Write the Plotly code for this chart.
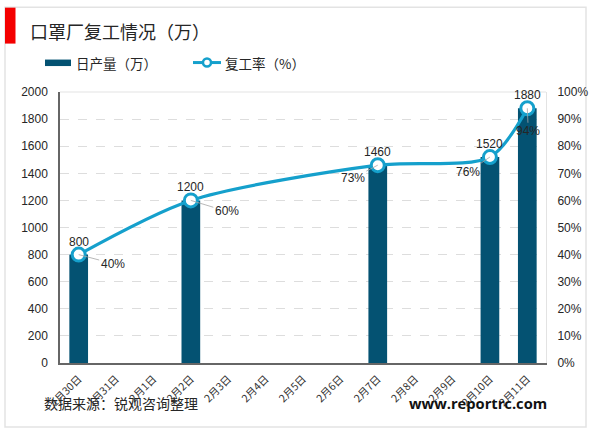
import plotly.graph_objects as go

FONT = "Liberation Sans, Noto Sans CJK SC, sans-serif"
CJK_FONT = "Noto Sans CJK SC, sans-serif"
TEXT_COLOR = "#262626"
BAR_COLOR = "#045272"
LINE_COLOR = "#15A0CC"
FRAME_COLOR = "#e3e3e3"

days = ["1月30日", "1月31日", "2月1日", "2月2日", "2月3日", "2月4日", "2月5日",
        "2月6日", "2月7日", "2月8日", "2月9日", "2月10日", "2月11日"]

report_days = ["1月30日", "2月2日", "2月7日", "2月10日", "2月11日"]
output_wan = [800, 1200, 1460, 1520, 1880]
rate_pct = [40, 60, 73, 76, 94]
# where the percent label sits relative to its point, in px
rate_label_offset = [(34, 9), (36, 11), (-25, 13), (-22, 15), (1, 23)]

y_ticks = list(range(0, 2001, 200))
rate_ticks = list(range(0, 101, 10))

WIDTH, HEIGHT = 600, 433
LEFT, RIGHT, TOP, BOTTOM = 60, 54, 91.5, 70
PLOT_W = WIDTH - LEFT - RIGHT
PLOT_H = HEIGHT - TOP - BOTTOM


def px_x(x):
    return (x - LEFT) / PLOT_W


def px_y(y):
    return (HEIGHT - BOTTOM - y) / PLOT_H


def add_box(fig, x0, x1, y0, y1, **kwargs):
    fig.add_shape(type=kwargs.pop("kind", "rect"), xref="paper", yref="paper",
                  x0=px_x(x0), x1=px_x(x1), y0=px_y(y0), y1=px_y(y1), **kwargs)


def add_text(fig, x, y, text, size, anchor="left", family=CJK_FONT, color=TEXT_COLOR):
    fig.add_annotation(xref="paper", yref="paper", x=px_x(x), y=px_y(y), xanchor=anchor,
                       yanchor="middle", showarrow=False, text=text,
                       font=dict(size=size, color=color, family=family))


fig = go.Figure()

fig.add_trace(
    go.Bar(
        x=report_days,
        y=output_wan,
        name="日产量（万）",
        marker=dict(color=BAR_COLOR, line=dict(width=0)),
        width=0.5,
    )
)

fig.add_trace(
    go.Scatter(
        x=report_days,
        y=rate_pct,
        yaxis="y2",
        name="复工率（%）",
        mode="lines+markers",
        line=dict(color=LINE_COLOR, width=3.2, shape="spline", smoothing=0.8),
        marker=dict(size=13, color="white", line=dict(color=LINE_COLOR, width=3)),
        cliponaxis=False,
    )
)

# value labels above the points, percent labels with leader lines
for day, value, rate, (dx, dy) in zip(report_days, output_wan, rate_pct, rate_label_offset):
    fig.add_annotation(
        x=day, y=rate, yref="y2", text=str(value), showarrow=False, yshift=13,
        font=dict(size=12, color=TEXT_COLOR, family=FONT),
    )
    fig.add_annotation(
        x=day, y=rate, yref="y2", text=f"{rate}%", showarrow=True, arrowhead=0,
        arrowwidth=0.8, arrowcolor="#a6a6a6", ax=dx, ay=dy,
        font=dict(size=12, color=TEXT_COLOR, family=FONT),
    )

# report frame, red title tab
add_box(fig, 5, 586, 6.5, 427, layer="below", line=dict(color=FRAME_COLOR, width=1.5),
        fillcolor="white")
add_box(fig, 5, 15.5, 7, 43, layer="below", line=dict(width=0), fillcolor="#f40000")
add_box(fig, 60, 546, 91.5, 91.5, kind="line", layer="below",
        line=dict(color=FRAME_COLOR, width=1))

add_text(fig, 28, 30, "口罩厂复工情况（万）", 18)
add_text(fig, 42, 403, "数据来源：锐观咨询整理", 14)
add_text(fig, 549, 403, "<b>www.reportrc.com</b>", 14.7, anchor="right",
         family="Open Sans, sans-serif", color="#111111")

# legend drawn by hand, the bar swatch is a wide thin strip in the reference
add_box(fig, 45, 71, 59, 65.5, line=dict(width=0), fillcolor=BAR_COLOR)
add_text(fig, 74, 62, "日产量（万）", 13.5)
add_box(fig, 193, 221, 62, 62, kind="line", line=dict(color=LINE_COLOR, width=3))
add_box(fig, 203, 211, 58, 66, kind="circle", line=dict(color=LINE_COLOR, width=2.5),
        fillcolor="white")
add_text(fig, 223, 62, "复工率（%）", 13.5)

fig.update_layout(
    width=WIDTH,
    height=HEIGHT,
    autosize=False,
    margin=dict(l=LEFT, r=RIGHT, t=TOP, b=BOTTOM),
    paper_bgcolor="white",
    plot_bgcolor="rgba(0,0,0,0)",
    font=dict(family=FONT, size=12, color=TEXT_COLOR),
    showlegend=False,
    xaxis=dict(
        type="category",
        categoryorder="array",
        categoryarray=days,
        tickvals=days,
        ticktext=days,
        tickangle=-45,
        tickfont=dict(size=10.5, color="#333333", family=CJK_FONT),
        showgrid=False,
        showline=True,
        linecolor="#666666",
        linewidth=1.5,
        ticks="outside",
        ticklen=4,
        tickcolor="rgba(0,0,0,0)",
        range=[-0.5, 12.5],
    ),
    yaxis=dict(
        range=[0, 2000],
        tickvals=y_ticks,
        tickfont=dict(size=12, color=TEXT_COLOR),
        showgrid=True,
        gridcolor="#dddddd",
        griddash="dash",
        gridwidth=1,
        showline=True,
        linecolor="#666666",
        linewidth=1.5,
        zeroline=False,
        ticks="outside",
        ticklen=8,
        tickcolor="rgba(0,0,0,0)",
    ),
    yaxis2=dict(
        overlaying="y",
        side="right",
        range=[0, 100],
        tickvals=rate_ticks,
        ticktext=[f"{t}%" for t in rate_ticks],
        tickfont=dict(size=12, color=TEXT_COLOR),
        showgrid=False,
        showline=True,
        linecolor=FRAME_COLOR,
        linewidth=1,
        zeroline=False,
        ticks="outside",
        ticklen=8,
        tickcolor="rgba(0,0,0,0)",
    ),
)

fig.write_html("out.html", config=dict(displayModeBar=False),
               post_script="document.body.style.margin='0';")
